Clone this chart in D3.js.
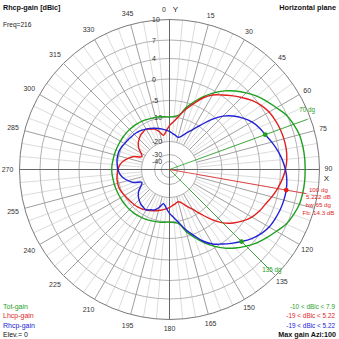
<!DOCTYPE html>
<html><head><meta charset="utf-8">
<script src="https://cdn.jsdelivr.net/npm/d3@7"></script>
<style>
html,body{margin:0;padding:0;background:#fff;}
svg{display:block;font-family:"Liberation Sans",Arial,sans-serif;}
</style></head><body>
<svg id="c" width="339" height="339"></svg>
<script>
// ---------- data ----------
const ringTicks = [10, 7, 4, 0, -5, -10, -20, -30, -40];
// 105 is hidden under the max-gain marker text in the reference
const angleTicks = [0,15,30,45,60,75,90,120,135,150,165,180,195,210,225,240,255,270,285,300,315,330,345];
const angles = [0,5,10,15,20,25,30,35,40,45,50,55,60,65,70,75,80,85,90,95,100,105,110,115,120,125,130,135,140,145,150,155,160,165,170,175,
                180,185,190,195,200,205,210,215,220,225,230,235,240,245,250,255,260,265,270,275,280,285,290,295,300,305,310,315,320,325,330,335,340,345,350,355];
const totGain = [-10.0,-9.75,-9.2,-6.5,-4.3,-2.35,-0.47,1.07,2.34,3.5,4.49,5.26,6.03,6.9,7.37,7.73,7.85,7.9,7.9,7.9,7.85,7.73,7.37,6.9,6.03,5.26,4.49,3.5,2.34,1.07,-0.47,-2.35,-4.3,-6.5,-9.2,-9.75,
                 -10.0,-9.85,-9.7,-9.55,-9.4,-9.25,-9.1,-8.95,-8.85,-8.8,-8.75,-8.75,-8.75,-8.7,-8.65,-8.6,-8.55,-8.45,-8.4,-8.45,-8.55,-8.6,-8.65,-8.7,-8.75,-8.75,-8.75,-8.8,-8.85,-8.95,-9.1,-9.25,-9.4,-9.55,-9.7,-9.85];
const lhcpGain = [-13.5,-11.8,-9.5,-7.1,-4.8,-2.7,-1.05,0.1,1.15,2.22,3.3,4.15,4.65,4.9,5.1,5.2,5.22,5.1,4.8,4.35,3.75,3.0,2.22,1.65,0.9,-0.2,-1.7,-3.5,-6.2,-9.5,-12.7,-14.9,-16.9,-17.8,-17.3,-16.7,
                  -15.9,-15.3,-14.7,-14.1,-13.5,-12.9,-12.4,-11.8,-11.4,-11.1,-10.9,-10.6,-10.3,-9.85,-9.65,-9.65,-9.75,-10.0,-10.4,-11.0,-12.2,-13.9,-15.9,-19.0,-18.0,-16.1,-14.8,-13.9,-13.1,-12.7,-12.4,-13.3,-13.9,-15.5,-17.3,-15.7];
const rhcpGain = [-15.9,-16.7,-17.3,-17.8,-16.9,-14.9,-12.7,-9.5,-6.2,-3.5,-1.7,-0.2,0.9,1.65,2.22,3.0,3.75,4.35,4.8,5.1,5.22,5.2,5.1,4.9,4.65,4.15,3.3,2.22,1.15,0.1,-1.05,-2.7,-4.8,-7.1,-9.5,-11.8,
                  -13.5,-15.7,-17.3,-15.5,-13.9,-13.3,-12.4,-12.7,-13.1,-13.9,-14.8,-16.1,-18.0,-19.0,-15.9,-13.9,-12.2,-11.0,-10.4,-10.0,-9.75,-9.65,-9.65,-9.85,-10.3,-10.6,-10.9,-11.1,-11.4,-11.8,-12.4,-12.9,-13.5,-14.1,-14.7,-15.3];
const seriesNames = ["Tot-gain", "Lhcp-gain", "Rhcp-gain"];
const rangeLabels = ["-10 < dBic < 7.9", "-19 < dBic < 5.22", "-19 < dBic < 5.22"];
const bwAngles = [70, 135];
const maxAngle = 100, maxGainText = "5.222", bwText = "65", fbText = "14.3";

// ---------- layout ----------
const cx = 169.5, cy = 169.5;
const colors = ["#1f9f1f", "#e11f1f", "#2222d4"];
const r = d3.scaleLinear()
  .domain([-40, -30, -20, -10, -5, 0, 4, 7, 10])
  .range([8, 15, 28, 52.5, 69, 90.5, 111, 129.5, 150])
  .clamp(true);
const rad = a => a * Math.PI / 180;
const px = (a, rr) => rr * Math.sin(rad(a));
const py = (a, rr) => -rr * Math.cos(rad(a));

const svg = d3.select("#c");
const g = svg.append("g").attr("transform", `translate(${cx},${cy})`);

// spokes (light every 5 deg)
const spokeAngles = d3.range(0, 360, 5).filter(a => a % 90 !== 0);
g.selectAll("line.sl").data(spokeAngles.filter(a => a % 15 !== 0)).join("line")
  .attr("x1", a => px(a, r(-20))).attr("y1", a => py(a, r(-20)))
  .attr("x2", a => px(a, r(10))).attr("y2", a => py(a, r(10)))
  .attr("stroke", "#dcdcdc").attr("stroke-width", 1);
// rings
g.selectAll("circle.ring").data(ringTicks).join("circle")
  .attr("r", t => r(t)).attr("fill", "none")
  .attr("stroke", t => t === 10 ? "#7a7a7a" : "#b2b2b2").attr("stroke-width", 1);
// spokes 15 deg
g.selectAll("line.sd").data(spokeAngles.filter(a => a % 15 === 0)).join("line")
  .attr("x1", a => px(a, r(-20))).attr("y1", a => py(a, r(-20)))
  .attr("x2", a => px(a, r(10))).attr("y2", a => py(a, r(10)))
  .attr("stroke", "#a0a0a0").attr("stroke-width", 1);
// axes
g.append("line").attr("x1", -r(10)).attr("x2", r(10)).attr("y1", 0).attr("y2", 0).attr("stroke", "#666");
g.append("line").attr("y1", -r(10)).attr("y2", r(10)).attr("x1", 0).attr("x2", 0).attr("stroke", "#666");

// ring labels
g.selectAll("text.rl").data(ringTicks).join("text")
  .attr("x", -17.5).attr("y", t => -r(t))
  .attr("dominant-baseline", "central").attr("font-size", 7).attr("fill", "#333")
  .text(t => t);

// angle labels
g.selectAll("text.al").data(angleTicks).join("text")
  .attr("x", a => a === 0 ? -5.5 : px(a, a > 180 ? 162 : 159))
  .attr("y", a => a === 0 ? -160 : (a === 90 ? -1.5 : py(a, a > 180 ? 162 : 159)))
  .attr("text-anchor", "middle").attr("dominant-baseline", "central")
  .attr("font-size", 7).attr("fill", "#333")
  .text(a => a);
g.append("text").attr("x", 6).attr("y", -160).attr("text-anchor", "middle")
  .attr("dominant-baseline", "central").attr("font-size", 8).attr("fill", "#222").text("Y");
g.append("text").attr("x", px(90, 157)).attr("y", 8.5).attr("text-anchor", "middle")
  .attr("dominant-baseline", "central").attr("font-size", 8).attr("fill", "#222").text("X");

// curves
const line = d3.lineRadial()
  .angle(d => rad(d.a)).radius(d => r(d.v))
  .curve(d3.curveCatmullRomClosed.alpha(0.5));
[totGain, lhcpGain, rhcpGain].forEach((s, i) => {
  g.append("path")
    .datum(angles.map((a, j) => ({ a, v: s[j] })))
    .attr("d", line).attr("fill", "none")
    .attr("stroke", colors[i]).attr("stroke-width", 1.4);
});

// beamwidth markers (green)
const rhcpAt = a => rhcpGain[angles.indexOf(a)];
bwAngles.forEach((a, k) => {
  const L = k === 0 ? 147 : 140;
  g.append("line").attr("x1", 0).attr("y1", 0)
    .attr("x2", px(a, L)).attr("y2", py(a, L))
    .attr("stroke", colors[0]).attr("stroke-width", 0.8);
  g.append("circle").attr("cx", px(a, r(rhcpAt(a)))).attr("cy", py(a, r(rhcpAt(a))))
    .attr("r", 2.4).attr("fill", colors[0]);
  g.append("text")
    .attr("x", px(a, L) + (k === 0 ? -0.5 : 3.5)).attr("y", py(a, L) + (k === 0 ? -10 : 1.5))
    .attr("text-anchor", "middle").attr("dominant-baseline", "central")
    .attr("font-size", 6.3).attr("fill", colors[0]).text(a + " dg");
});
// max marker (red)
{
  const L = 139;
  g.append("line").attr("x1", 0).attr("y1", 0)
    .attr("x2", px(maxAngle, L)).attr("y2", py(maxAngle, L))
    .attr("stroke", colors[1]).attr("stroke-width", 0.8);
  g.append("circle").attr("cx", px(maxAngle, r(rhcpAt(maxAngle)))).attr("cy", py(maxAngle, r(rhcpAt(maxAngle))))
    .attr("r", 2.4).attr("fill", colors[1]);
  const lines = [maxAngle + " dg", maxGainText + " dB", "bw " + bwText + " dg", "Fb: " + fbText + " dB"];
  const tx = px(maxAngle, L) + 12;
  lines.forEach((t, i) => {
    g.append("text").attr("x", tx).attr("y", 19.5 + i * 7.7)
      .attr("text-anchor", "middle").attr("dominant-baseline", "central")
      .attr("font-size", 6.2).attr("fill", colors[1]).text(t);
  });
}

// titles
svg.append("text").attr("x", 3).attr("y", 9.5).attr("font-size", 7.2).attr("font-weight", "bold").attr("fill", "#111").text("Rhcp-gain [dBic]");
svg.append("text").attr("x", 3).attr("y", 26.5).attr("font-size", 6.6).attr("fill", "#222").text("Freq=216");
svg.append("text").attr("x", 336).attr("y", 9.5).attr("text-anchor", "end").attr("font-size", 7.3).attr("font-weight", "bold").attr("fill", "#111").text("Horizontal plane");

// legends
const legY = [306, 315.8, 325.5];
seriesNames.forEach((n, i) => {
  svg.append("text").attr("x", 3).attr("y", legY[i]).attr("dominant-baseline", "central")
    .attr("font-size", 7).attr("fill", colors[i]).text(n);
  svg.append("text").attr("x", 335).attr("y", legY[i]).attr("dominant-baseline", "central")
    .attr("text-anchor", "end").attr("font-size", 6.4).attr("fill", colors[i]).text(rangeLabels[i]);
});
svg.append("text").attr("x", 3).attr("y", 334.8).attr("dominant-baseline", "central")
  .attr("font-size", 7).attr("fill", "#111").text("Elev.= 0");
svg.append("text").attr("x", 336).attr("y", 334.5).attr("dominant-baseline", "central")
  .attr("text-anchor", "end").attr("font-size", 7.2).attr("font-weight", "bold").attr("fill", "#111").text("Max gain Azi:" + maxAngle);
</script>
</body></html>
